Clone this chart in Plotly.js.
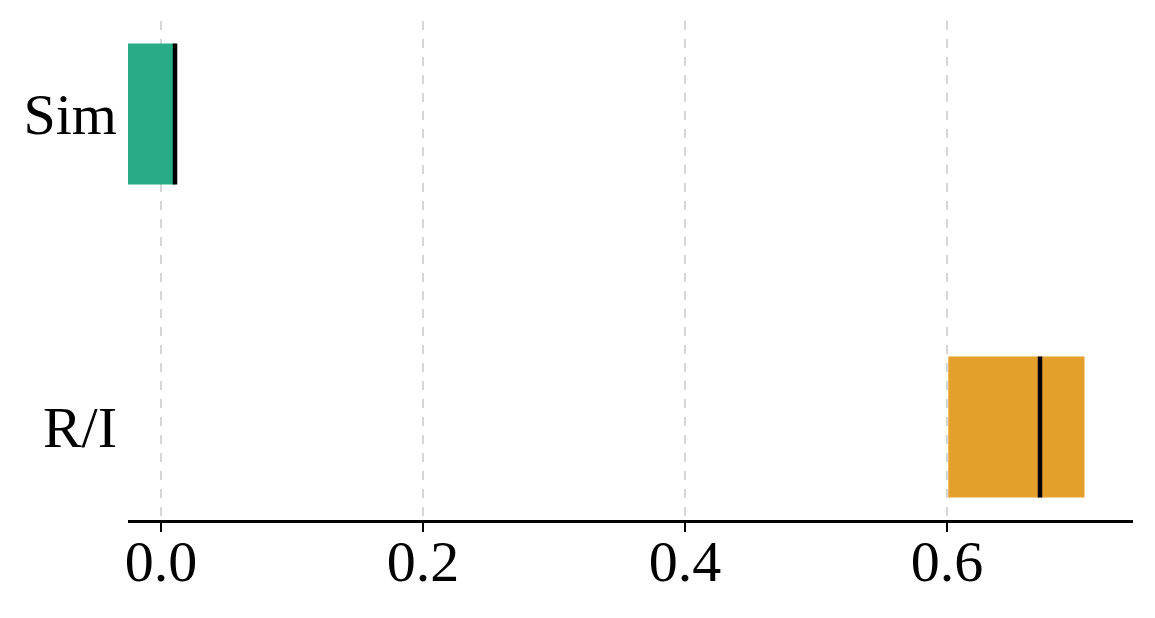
<!DOCTYPE html>
<html>
<head>
<meta charset="utf-8">
<script src="https://cdn.plot.ly/plotly-3.0.1.min.js"></script>
<style>
  html, body { margin: 0; padding: 0; background: #ffffff; }
  #chart { width: 1155px; height: 618px; }
</style>
</head>
<body>
<div id="chart"></div>
<script>
// categories, bottom to top
const categories = ['R/I', 'Sim'];
const positions = [0, 1];
const q1 = [0.601, -0.03];
const q3 = [0.705, 0.0107];
const medians = [0.671, 0.0107];
const colors = ['#e3a02a', '#28ac88'];
const tickVals = [0.0, 0.2, 0.4, 0.6];
const tickText = ['0.0', '0.2', '0.4', '0.6'];

const boxWidth = 0.45;

const boxes = {
    type: 'bar',
    orientation: 'h',
    y: positions,
    base: q1,
    x: q1.map((v, i) => q3[i] - v),
    width: boxWidth,
    marker: { color: colors, line: { width: 0 } },
    hoverinfo: 'skip'
};

// median lines
const mx = [], my = [];
medians.forEach((m, i) => {
    mx.push(m, m, null);
    my.push(positions[i] - boxWidth / 2, positions[i] + boxWidth / 2, null);
});
const medianLines = {
    type: 'scatter',
    mode: 'lines',
    x: mx,
    y: my,
    line: { color: '#000000', width: 4.5 },
    hoverinfo: 'skip'
};

const layout = {
    width: 1155,
    height: 618,
    margin: { t: 21, r: 22, b: 98, l: 128 },
    showlegend: false,
    plot_bgcolor: '#ffffff',
    paper_bgcolor: '#ffffff',
    font: { family: 'Liberation Serif, Times New Roman, serif', size: 58, color: '#000000' },
    xaxis: {
        range: [-0.0252, 0.742],
        tickvals: tickVals,
        ticktext: tickText,
        showgrid: true,
        gridcolor: '#d6d6d6',
        gridwidth: 1.2,
        griddash: 'dash',
        zeroline: false,
        showline: true,
        linecolor: '#000000',
        linewidth: 2.5,
        ticks: 'outside',
        ticklen: 9,
        tickwidth: 2,
        tickcolor: '#000000',
        ticklabelstandoff: -20
    },
    yaxis: {
        range: [-0.297, 1.297],
        tickvals: positions,
        ticktext: categories,
        showgrid: false,
        zeroline: false,
        showline: false,
        ticks: '',
        ticklabelstandoff: 10
    }
};

Plotly.newPlot('chart', [boxes, medianLines], layout, {
    displayModeBar: false,
    staticPlot: true
});
</script>
</body>
</html>
